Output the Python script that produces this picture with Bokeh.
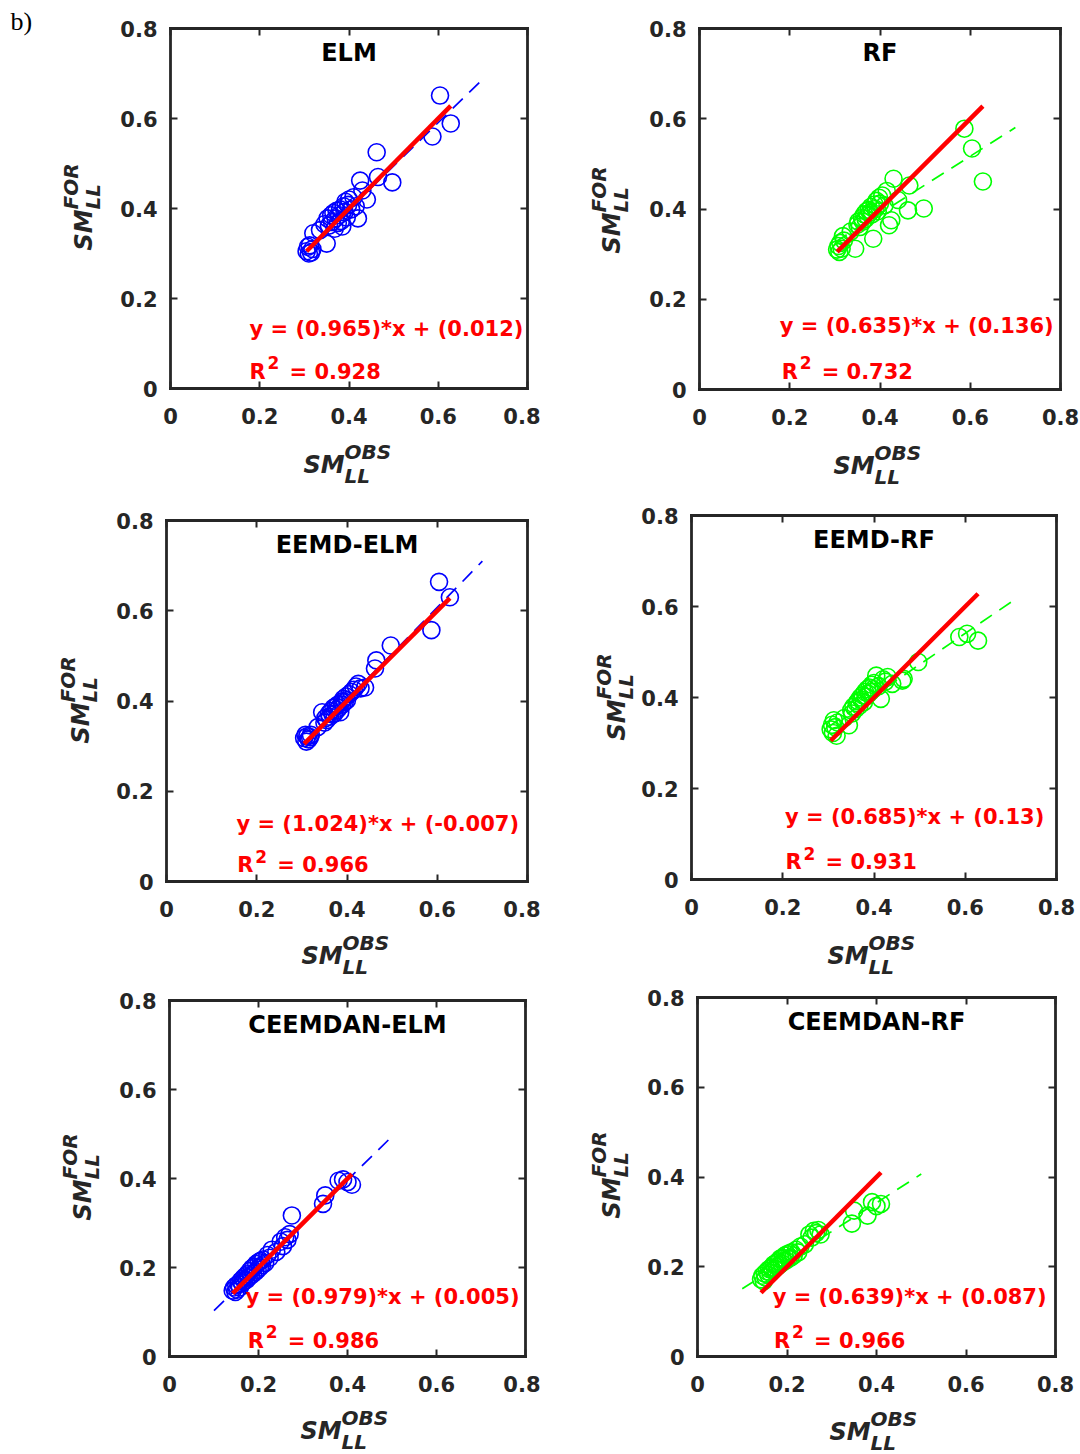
import math
from bokeh.plotting import figure
from bokeh.models import Range1d, FixedTicker, LinearAxis, Label
from bokeh.layouts import row, column
from bokeh.embed import file_html
from bokeh.resources import INLINE

# ---------------------------------------------------------------- data
tick_values = [0, 0.2, 0.4, 0.6, 0.8]
tick_labels = ["0", "0.2", "0.4", "0.6", "0.8"]

# observed soil moisture, first station group (ELM / RF / EEMD panels)
obs_a = [0.305, 0.308, 0.310, 0.312, 0.315, 0.318, 0.320, 0.335, 0.345, 0.350,
         0.352, 0.355, 0.360, 0.362, 0.365, 0.368, 0.370, 0.372, 0.375, 0.378,
         0.380, 0.382, 0.385, 0.388, 0.390, 0.392, 0.395, 0.398, 0.400, 0.405,
         0.410, 0.415, 0.420, 0.425, 0.430, 0.440, 0.462, 0.465, 0.497, 0.587,
         0.604, 0.628]

for_elm = [0.305, 0.315, 0.300, 0.318, 0.302, 0.310, 0.345, 0.352, 0.365, 0.322,
           0.378, 0.362, 0.385, 0.370, 0.390, 0.355, 0.378, 0.395, 0.368, 0.385,
           0.398, 0.372, 0.360, 0.405, 0.392, 0.415, 0.380, 0.408, 0.420, 0.398,
           0.425, 0.405, 0.378, 0.462, 0.440, 0.420, 0.525, 0.470, 0.458, 0.560,
           0.651, 0.589]

for_rf = [0.310, 0.318, 0.305, 0.325, 0.312, 0.340, 0.330, 0.350, 0.312, 0.365,
          0.372, 0.360, 0.380, 0.372, 0.388, 0.378, 0.395, 0.385, 0.398, 0.392,
          0.405, 0.388, 0.334, 0.410, 0.400, 0.418, 0.395, 0.425, 0.412, 0.430,
          0.408, 0.440, 0.364, 0.375, 0.467, 0.420, 0.397, 0.452, 0.401, 0.578,
          0.534, 0.461]

for_eemd_elm = [0.318, 0.325, 0.310, 0.322, 0.315, 0.320, 0.325, 0.342, 0.375, 0.352,
                0.362, 0.358, 0.372, 0.365, 0.378, 0.370, 0.385, 0.372, 0.388, 0.380,
                0.392, 0.385, 0.375, 0.398, 0.392, 0.405, 0.398, 0.410, 0.402, 0.415,
                0.420, 0.425, 0.432, 0.438, 0.428, 0.430, 0.472, 0.490, 0.523, 0.557,
                0.664, 0.630]

for_eemd_rf = [0.330, 0.340, 0.322, 0.350, 0.335, 0.316, 0.345, 0.355, 0.339, 0.372,
               0.365, 0.380, 0.375, 0.388, 0.392, 0.382, 0.400, 0.395, 0.405, 0.390,
               0.412, 0.402, 0.418, 0.408, 0.422, 0.412, 0.428, 0.418, 0.432, 0.448,
               0.425, 0.397, 0.440, 0.435, 0.445, 0.430, 0.437, 0.441, 0.478, 0.533,
               0.540, 0.525]

# observed soil moisture, second station group (CEEMDAN panels)
obs_b = [0.142, 0.145, 0.148, 0.150, 0.152, 0.155, 0.158, 0.160, 0.163, 0.165,
         0.168, 0.170, 0.173, 0.175, 0.178, 0.180, 0.183, 0.185, 0.188, 0.190,
         0.193, 0.195, 0.198, 0.200, 0.203, 0.205, 0.208, 0.210, 0.215, 0.220,
         0.225, 0.230, 0.240, 0.250, 0.255, 0.260, 0.265, 0.270, 0.275, 0.345,
         0.350, 0.380, 0.390, 0.400, 0.410]

for_ceemdan_elm = [0.148, 0.155, 0.145, 0.160, 0.150, 0.162, 0.155, 0.170, 0.165, 0.175,
                   0.170, 0.180, 0.172, 0.185, 0.178, 0.192, 0.182, 0.198, 0.186, 0.202,
                   0.190, 0.208, 0.195, 0.212, 0.200, 0.215, 0.205, 0.218, 0.210, 0.228,
                   0.222, 0.240, 0.235, 0.258, 0.248, 0.268, 0.262, 0.275, 0.317, 0.343,
                   0.362, 0.395, 0.398, 0.392, 0.386]

for_ceemdan_rf = [0.172, 0.180, 0.168, 0.185, 0.176, 0.190, 0.182, 0.195, 0.186, 0.198,
                  0.192, 0.205, 0.196, 0.208, 0.200, 0.212, 0.204, 0.218, 0.208, 0.220,
                  0.212, 0.225, 0.214, 0.228, 0.218, 0.230, 0.220, 0.232, 0.225, 0.238,
                  0.232, 0.245, 0.250, 0.272, 0.265, 0.280, 0.275, 0.282, 0.272, 0.296,
                  0.325, 0.314, 0.344, 0.335, 0.340]

models = ["ELM", "RF", "EEMD-ELM", "EEMD-RF", "CEEMDAN-ELM", "CEEMDAN-RF"]
slopes = [0.965, 0.635, 1.024, 0.685, 0.979, 0.639]
intercepts = [0.012, 0.136, -0.007, 0.13, 0.005, 0.087]
r_squared = [0.928, 0.732, 0.966, 0.931, 0.986, 0.966]
fit_x_a = [0.3, 0.7]
fit_x_b = [0.1, 0.5]

# ---------------------------------------------------------------- styling
AX = "#262626"
FONT = "DejaVu Sans"
BLUE = "#0000FF"
GREEN = "#00FF00"
RED = "#FF0000"
LO, HI = 0.0, 0.8       # axis box limits


def text(p, x, y, s, size, color, style="bold", angle=0.0, align="left",
         font=FONT):
    p.add_layout(Label(x=x, y=y, text=s, text_align=align,
                       text_baseline="alphabetic", text_font=font,
                       text_font_style=style, text_font_size=size,
                       text_color=color, angle=angle))


def panel(title, obs, pred, slope, icpt, r2, fit_x, color, geom, eq_at, r2_at,
          xlab_at, ylab_at):
    left, fw, right, top, fh, bottom = geom
    kx = (HI - LO) / fw   # data units per pixel
    ky = (HI - LO) / fh
    # the plotting frame spans the whole canvas; the axis box sits inside it
    p = figure(width=left + fw + right, height=top + fh + bottom,
               min_border=0, title_location=None,
               x_range=Range1d(LO - left * kx, HI + right * kx),
               y_range=Range1d(LO - bottom * ky, HI + top * ky),
               output_backend="svg", toolbar_location=None, tools="",
               x_axis_location=None, y_axis_location=None)
    p.xgrid.grid_line_color = None
    p.ygrid.grid_line_color = None
    p.outline_line_color = None
    p.background_fill_color = "white"
    p.border_fill_color = "white"

    for side, loc in (("below", LO), ("left", LO), ("above", HI), ("right", HI)):
        ax = LinearAxis(ticker=FixedTicker(ticks=tick_values),
                        fixed_location=loc, bounds=(LO, HI))
        ax.axis_line_color = AX
        ax.axis_line_width = 2.8
        ax.axis_line_cap = "square"
        ax.major_tick_line_color = AX
        ax.major_tick_line_width = 2
        ax.major_tick_in = 7
        ax.major_tick_out = 0
        ax.minor_tick_line_color = None
        if side in ("below", "left"):
            ax.major_label_overrides = {v: s for v, s in zip(tick_values, tick_labels)}
            ax.major_label_text_font = FONT
            ax.major_label_text_font_style = "bold"
            ax.major_label_text_font_size = "21px"
            ax.major_label_text_color = AX
            ax.major_label_standoff = 19 if side == "below" else 13
        else:
            # box ticks only, no numbers on the top and right sides
            ax.major_label_overrides = {v: "" for v in tick_values}
            ax.major_label_standoff = 0
        p.add_layout(ax, side)

    # scatter of forecast vs observed
    p.scatter(obs, pred, marker="circle", size=17, fill_color=None,
              line_color=color, line_width=1.6)
    # fitted regression line
    fy = [slope * x + icpt for x in fit_x]
    p.line(fit_x, fy, line_color=color, line_width=1.7, line_dash="14 9")
    # 1:1 reference line over the observed range
    lo, hi = min(obs), max(obs)
    p.line([lo, hi], [lo, hi], line_color=RED, line_width=4.5)

    up = 8 * ky  # baseline correction
    # panel title
    text(p, 0.4, 0.728 + up, title, "24px", "black", align="center")
    # regression equation and R^2
    text(p, eq_at[0], eq_at[1] + up, f"y = ({slope})*x + ({icpt})", "21px", RED)
    rx, ry = r2_at[0], r2_at[1] + up
    text(p, rx, ry, "R", "21px", RED)
    text(p, rx + 18 * kx, ry + 9 * ky, "2", "17px", RED)
    text(p, rx + 40 * kx, ry, f"= {r2}", "21px", RED)

    # x axis label: SM with superscript OBS and subscript LL
    sx, sy = xlab_at[0] * kx, -xlab_at[1] * ky + up
    text(p, sx, sy, "SM", "24px", AX, style="bold italic")
    text(p, sx + 41 * kx, sy + 13 * ky, "OBS", "20px", AX, style="bold italic")
    text(p, sx + 41 * kx, sy - 11 * ky, "LL", "20px", AX, style="bold italic")

    # y axis label, rotated: SM with superscript FOR and subscript LL
    vx, vy = -(ylab_at[0] + 8) * kx, ylab_at[1] * ky
    a = math.pi / 2
    text(p, vx, vy, "SM", "24px", AX, style="bold italic", angle=a)
    text(p, vx - 12.5 * kx, vy + 41 * ky, "FOR", "20px", AX, style="bold italic", angle=a)
    text(p, vx + 9 * kx, vy + 41 * ky, "LL", "20px", AX, style="bold italic", angle=a)
    return p, kx, ky


geoms = [(170, 357, 13, 28, 360, 102), (159, 361, 20, 28, 361, 101),
         (166, 361, 13, 30, 361, 99), (151, 365, 24, 25, 364, 101),
         (169, 356, 15, 20, 356, 98), (157, 358, 25, 17, 359, 98)]
eq_pos = [(0.177, 0.114), (0.178, 0.122), (0.155, 0.109),
          (0.205, 0.119), (0.171, 0.115), (0.168, 0.114)]
r2_pos = [(0.177, 0.020), (0.182, 0.0215), (0.157, 0.018),
          (0.206, 0.020), (0.176, 0.017), (0.171, 0.017)]
xlab_pos = [(133, 84), (134, 84), (135, 82), (136, 84), (131, 82), (132, 83)]
ylab_pos = [(79, 138), (80, 136), (78, 138), (67, 139), (79, 136), (78, 138)]

series = [(obs_a, for_elm, fit_x_a, BLUE), (obs_a, for_rf, fit_x_a, GREEN),
          (obs_a, for_eemd_elm, fit_x_a, BLUE), (obs_a, for_eemd_rf, fit_x_a, GREEN),
          (obs_b, for_ceemdan_elm, fit_x_b, BLUE), (obs_b, for_ceemdan_rf, fit_x_b, GREEN)]

plots = []
for i, (obs, pred, fx, col) in enumerate(series):
    p, kx, ky = panel(models[i], obs, pred, slopes[i], intercepts[i], r_squared[i],
                      fx, col, geoms[i], eq_pos[i], r2_pos[i], xlab_pos[i], ylab_pos[i])
    plots.append(p)
    if i == 0:
        # panel tag in the top-left corner
        text(p, -160 * kx, HI + 7 * ky, "b)", "26px", "black", style="normal",
             font="Liberation Serif")

layout = column(row(plots[0], plots[1]), row(plots[2], plots[3]),
                row(plots[4], plots[5]))

open("out.html", "w").write(file_html(layout, INLINE))
